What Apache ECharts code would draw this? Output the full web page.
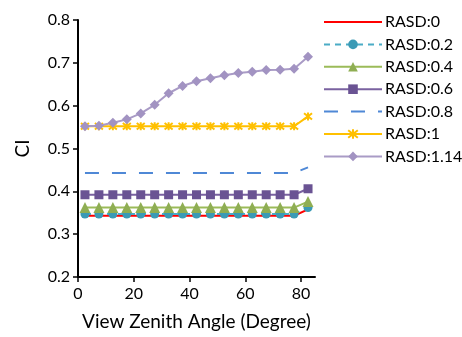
<!DOCTYPE html>
<html><head><meta charset="utf-8">
<script src="https://cdn.jsdelivr.net/npm/echarts@6/dist/echarts.min.js"></script>
<style>html,body{margin:0;padding:0;background:#fff}#c{width:462px;height:337px}</style>
</head><body><div id="c"></div>
<script>
const angles = [2.5,7.5,12.5,17.5,22.5,27.5,32.5,37.5,42.5,47.5,52.5,57.5,62.5,67.5,72.5,77.5,82.5];
const rasd0   = [0.343,0.343,0.343,0.343,0.343,0.343,0.343,0.343,0.343,0.343,0.343,0.343,0.343,0.343,0.343,0.343,0.358];
const rasd02  = [0.347,0.347,0.347,0.347,0.347,0.347,0.347,0.347,0.347,0.347,0.347,0.347,0.347,0.347,0.347,0.347,0.362];
const rasd04  = [0.362,0.362,0.362,0.362,0.362,0.362,0.362,0.362,0.362,0.362,0.362,0.362,0.362,0.362,0.362,0.362,0.376];
const rasd06  = [0.392,0.392,0.392,0.392,0.392,0.392,0.392,0.392,0.392,0.392,0.392,0.392,0.392,0.392,0.392,0.392,0.406];
const rasd08  = [0.443,0.443,0.443,0.443,0.443,0.443,0.443,0.443,0.443,0.443,0.443,0.443,0.443,0.443,0.443,0.443,0.456];
const rasd1   = [0.552,0.552,0.552,0.552,0.552,0.552,0.552,0.552,0.552,0.552,0.552,0.552,0.552,0.552,0.552,0.552,0.575];
const rasd114 = [0.552,0.553,0.560,0.568,0.582,0.602,0.629,0.646,0.657,0.664,0.671,0.676,0.679,0.683,0.684,0.686,0.714];
const xTicks = [0,20,40,60,80];
const seriesNames = ['RASD:0','RASD:0.2','RASD:0.4','RASD:0.6','RASD:0.8','RASD:1','RASD:1.14'];

const pair = a => angles.map((x,i)=>[x,a[i]]);
const FONT = 'Lato';
const starPath = 'path://M1,1L9,9M9,1L1,9M5,0L5,10';

const chart = echarts.init(document.getElementById('c'));
chart.setOption({
  animation:false,
  textStyle:{fontFamily:FONT},
  grid:{left:78,top:20,right:147,bottom:60,containLabel:false},
  legend:{
    orient:'vertical', left:318, top:9, itemWidth:58, itemHeight:12, itemGap:6.4,
    textStyle:{fontFamily:FONT,fontSize:16,color:'#000',padding:[0,0,0,-2]},
    data:seriesNames.map((n,i)=> (i===0||i===4) ? {name:n,itemStyle:{opacity:0}} : n)
  },
  xAxis:{
    type:'value', min:0, max:85, interval:20,
    name:'View Zenith Angle (Degree)', nameLocation:'middle', nameGap:35,
    nameTextStyle:{fontFamily:FONT,fontSize:19,color:'#000'},
    axisLine:{lineStyle:{color:'#000',width:2}},
    axisTick:{show:true,length:5,lineStyle:{color:'#000',width:1.5},customValues:xTicks},
    axisLabel:{color:'#000',fontSize:16,fontFamily:FONT,margin:9,customValues:xTicks},
    splitLine:{show:false}
  },
  yAxis:{
    type:'value', min:0.2, max:0.8, interval:0.1,
    name:'CI', nameLocation:'middle', nameGap:46, nameRotate:90,
    nameTextStyle:{fontFamily:FONT,fontSize:19,color:'#000'},
    axisLine:{show:true,lineStyle:{color:'#000',width:2}},
    axisTick:{show:true,length:5,lineStyle:{color:'#000',width:1.5}},
    axisLabel:{color:'#000',fontSize:16,fontFamily:FONT,margin:8,formatter:v=>v.toFixed(1)},
    splitLine:{show:false}
  },
  series:[
    {name:seriesNames[0],type:'line',data:pair(rasd0),symbol:'none',lineStyle:{color:'#FF0000',width:2},itemStyle:{color:'#FF0000'},z:2},
    {name:seriesNames[1],type:'line',data:pair(rasd02),symbol:'circle',symbolSize:9,lineStyle:{color:'#4BACC6',width:2,type:[6,5]},itemStyle:{color:'#3B9AB5'},z:3},
    {name:seriesNames[2],type:'line',data:pair(rasd04),symbol:'triangle',symbolSize:11,lineStyle:{color:'#9BBB59',width:2},itemStyle:{color:'#8FAE53'},z:3},
    {name:seriesNames[3],type:'line',data:pair(rasd06),symbol:'rect',symbolSize:9,lineStyle:{color:'#7A62A0',width:2},itemStyle:{color:'#6A5393'},z:3},
    {name:seriesNames[4],type:'line',data:pair(rasd08),symbol:'none',lineStyle:{color:'#4F88D6',width:2,type:[14,13]},itemStyle:{color:'#4F88D6'},z:3},
    {name:seriesNames[5],type:'line',data:pair(rasd1),symbol:starPath,symbolSize:8,lineStyle:{color:'#FFC000',width:2},itemStyle:{color:'#FFC000',borderColor:'#FFC000',borderWidth:2},z:3},
    {name:seriesNames[6],type:'line',data:pair(rasd114),symbol:'diamond',symbolSize:10,lineStyle:{color:'#A99BC6',width:2},itemStyle:{color:'#A293C2'},z:4}
  ]
});
</script></body></html>
